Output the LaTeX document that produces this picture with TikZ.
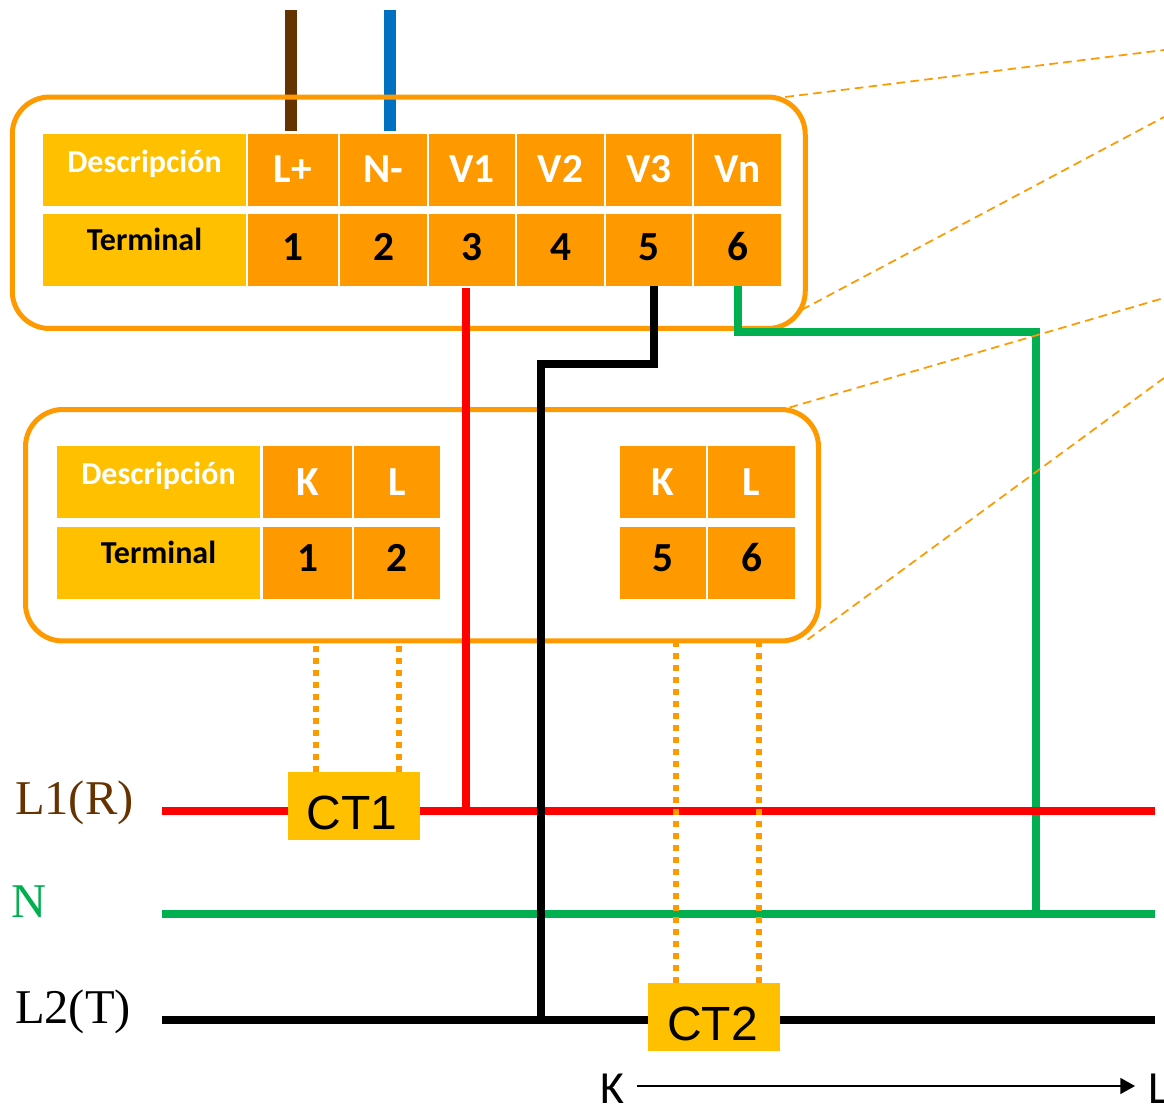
\documentclass[tikz,border=0pt]{standalone}
\usepackage{xcolor}
\usepackage{fontspec}
\usepackage{tikz}
\usetikzlibrary{positioning,arrows.meta,backgrounds}
\setmainfont{Carlito}
\newfontfamily\arialfont{Liberation Sans}
\newfontfamily\timesfont{Liberation Serif}
\definecolor{cellorange}{HTML}{FF9900}
\definecolor{headgold}{HTML}{FFC000}
\definecolor{wiregreen}{HTML}{00B050}
\definecolor{wirebrown}{HTML}{663300}
\definecolor{wireblue}{HTML}{0070C0}

\begin{document}
\begin{tikzpicture}[x=0.75pt, y=-0.75pt, outer sep=0pt]
    % Define styles
    \tikzstyle{panel} = [rectangle, draw=cellorange, line width=3.75pt, rounded corners=28pt, inner sep=0pt]
    \tikzstyle{cell} = [rectangle, minimum height=54pt, inner sep=0pt, text centered, fill=cellorange, font=\fontsize{31}{37}\selectfont\bfseries]
    \tikzstyle{topcell} = [cell, text=white, text height=19.5pt, text depth=0pt]
    \tikzstyle{numcell} = [cell, text=black, text height=16.5pt, text depth=0pt]
    \tikzstyle{desccell} = [cell, fill=headgold, minimum width=152.25pt, anchor=north west, text=white, text height=4pt, text depth=0pt, font=\fontsize{24}{29}\selectfont\bfseries]
    \tikzstyle{termcell} = [desccell, text=black, text height=1pt]
    \tikzstyle{ctbox} = [rectangle, fill=headgold, minimum width=99pt, minimum height=51pt, inner sep=0pt, text height=34.5pt, text depth=0pt, font=\arialfont\fontsize{36}{43}\selectfont]
    \tikzstyle{phase} = [anchor=base west, inner sep=0pt, font=\timesfont\fontsize{36.4}{44}\selectfont]
    \tikzstyle{endmark} = [inner xsep=10pt, inner ysep=0pt, text height=26pt, text depth=0pt, font=\fontsize{34.5}{41}\selectfont]
    \tikzstyle{wire} = [line width=6pt]
    \tikzstyle{sense} = [line width=4.5pt, cellorange, dash pattern=on 4.5pt off 4.5pt]
    \tikzstyle{zoomline} = [line width=1.3pt, cellorange, dash pattern=on 6.5pt off 4pt]
    \tikzstyle{arrow} = [line width=1.1pt, -{Stealth[length=11pt,width=12pt,inset=0pt]}]

    % Free ends
    \coordinate (supplyplus) at (291,10);
    \coordinate (supplyminus) at (390,10);
    \coordinate (rA) at (162,811);
    \coordinate (rB) at (1155,811);
    \coordinate (nA) at (162,914);
    \coordinate (nB) at (1155,914);
    \coordinate (tA) at (162,1020);
    \coordinate (tB) at (1155,1020);
    \coordinate (bendblack) at (541,364);
    \coordinate (bendgreen) at (1036,332);
    \useasboundingbox (0,0) rectangle (1164,1105);

    % Meter panel
    \node [panel, minimum width=594.75pt, minimum height=173.6pt] (meter) at (408.75,212.75) {};
    \node [desccell] (descA) at (43,134) {Descripción};
    \node [topcell, minimum width=67.5pt, right=1.5pt of descA] (lplus) {L+};
    \node [topcell, minimum width=65.25pt, right=1.5pt of lplus] (nminus) {N-};
    \node [topcell, minimum width=64.5pt, right=1.5pt of nminus] (vone) {V1};
    \node [topcell, minimum width=65.25pt, right=1.5pt of vone] (vtwo) {V2};
    \node [topcell, minimum width=64.5pt, right=1.5pt of vtwo] (vthree) {V3};
    \node [topcell, minimum width=65.25pt, right=1.5pt of vthree] (vn) {Vn};
    \node [termcell] (termA) at (43,214) {Terminal};
    \node [numcell, minimum width=67.5pt, below=6pt of lplus] (tone) {1};
    \node [numcell, minimum width=65.25pt, below=6pt of nminus] (ttwo) {2};
    \node [numcell, minimum width=64.5pt, below=6pt of vone] (tthree) {3};
    \node [numcell, minimum width=65.25pt, below=6pt of vtwo] (tfour) {4};
    \node [numcell, minimum width=64.5pt, below=6pt of vthree] (tfive) {5};
    \node [numcell, minimum width=65.25pt, below=6pt of vn] (tsix) {6};

    % Current panel
    \node [panel, minimum width=594.75pt, minimum height=173.6pt] (current) at (422,525.25) {};
    \node [desccell] (descB) at (57,446) {Descripción};
    \node [topcell, minimum width=66.75pt, right=2.25pt of descB] (kone) {K};
    \node [topcell, minimum width=64.5pt, right=1.5pt of kone] (lone) {L};
    \node [termcell] (termB) at (57,527) {Terminal};
    \node [numcell, minimum width=66.75pt, below=6.75pt of kone, text height=13pt] (cone) {1};
    \node [numcell, minimum width=64.5pt, below=6.75pt of lone, text height=13pt] (ctwo) {2};
    \node [topcell, minimum width=64.5pt, anchor=north west] (ktwo) at (620,446) {K};
    \node [topcell, minimum width=65.25pt, right=1.5pt of ktwo] (ltwo) {L};
    \node [numcell, minimum width=64.5pt, below=6.75pt of ktwo, text height=13pt] (cfive) {5};
    \node [numcell, minimum width=65.25pt, below=6.75pt of ltwo, text height=13pt] (csix) {6};

    % Phase labels
    \node [phase, text=wirebrown] (lineR) at (15,814) {L1(R)};
    \node [phase, text=wiregreen] (lineN) at (12,917) {N};
    \node [phase] (lineT) at (15,1023) {L2(T)};

    % Supply wires, under the panel outline
    \begin{scope}[on background layer]
        \draw [wire, wirebrown, line width=9pt] (supplyplus) -- ([yshift=2.25pt]lplus.north -| supplyplus);
        \draw [wire, wireblue, line width=9pt] (supplyminus) -- ([yshift=2.25pt]nminus.north -| supplyminus);
    \end{scope}

    % Lines
    \draw [wire, wiregreen] (nA) -- (nB);
    \draw [wire, wiregreen] (tsix.south) |- (bendgreen) -- (bendgreen |- nA);
    \draw [wire, red] ([xshift=-4.5pt,yshift=-1.5pt]tthree.south) -- ([xshift=-4.5pt]tthree.south |- rA);
    \draw [wire, red] (rA) -- (rB);
    \draw [wire, black] (tA) -- (tB);

    % Current transformers
    \node [ctbox] (ctA) at (354,806) {\kern-3pt CT1};
    \node [ctbox] (ctB) at (714,1017) {\kern-2pt CT2};
    \draw [sense] ([xshift=-28.5pt]ctA.north) -- ([xshift=-28.5pt]ctA.north |- current.south);
    \draw [sense] ([xshift=33.75pt]ctA.north) -- ([xshift=33.75pt]ctA.north |- current.south);
    \draw [sense] ([xshift=-28.5pt]ctB.north) -- ([xshift=-28.5pt]ctB.north |- current.south);
    \draw [sense] ([xshift=33.75pt]ctB.north) -- ([xshift=33.75pt]ctB.north |- current.south);
    \draw [wire, black] ([xshift=3.75pt]tfive.south) |- (bendblack) -- (bendblack |- tA);

    % Callout lines
    \coordinate (farA) at (1164,50);
    \coordinate (farB) at (1164,117);
    \coordinate (farC) at (1164,298);
    \coordinate (farD) at (1164,378);
    \draw [zoomline] ([xshift=-15pt]meter.north east) -- (farA);
    \draw [zoomline] ([xshift=-2.6pt,yshift=14pt]meter.south east) -- (farB);
    \draw [zoomline] ([xshift=-21.75pt,yshift=1.5pt]current.north east) -- (farC);
    \draw [zoomline] ([xshift=-8.25pt,yshift=1pt]current.south east) -- (farD);

    % K to L direction
    \node [endmark] (kmark) at (612,1086) {K};
    \node [endmark, anchor=west] (lmark) at (1135,1086) {L};
    \draw [arrow] (kmark.east) -- (lmark.west);
\end{tikzpicture}
\end{document}
